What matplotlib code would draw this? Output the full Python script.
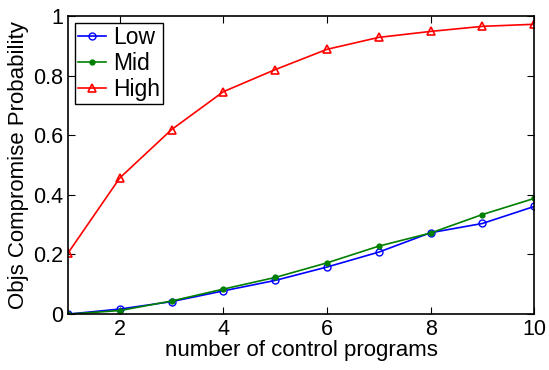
import matplotlib
matplotlib.use('Agg')
import matplotlib.pyplot as plt

plt.rcParams['font.family'] = ['Liberation Sans', 'DejaVu Sans']

# Data
n_programs = [1, 2, 3, 4, 5, 6, 7, 8, 9, 10]
low = [0.0, 0.017, 0.042, 0.078, 0.113, 0.158, 0.208, 0.273, 0.304, 0.361]
mid = [0.0, 0.012, 0.044, 0.084, 0.123, 0.172, 0.228, 0.272, 0.334, 0.388]
high = [0.205, 0.457, 0.619, 0.746, 0.82, 0.888, 0.928, 0.948, 0.965, 0.972]

fig = plt.figure(figsize=(5.49, 3.70), dpi=100)
ax = fig.add_axes([0.124, 0.151, 0.849, 0.806])

ax.plot(n_programs, low, color='blue', marker='o', markersize=5,
        markerfacecolor='none', linewidth=1.2, label='Low')
ax.plot(n_programs, mid, color='green', marker='.', markersize=7,
        linewidth=1.2, label='Mid')
ax.plot(n_programs, high, color='red', marker='^', markersize=6,
        markerfacecolor='none', markeredgewidth=1.2, linewidth=1.2, label='High')

ax.set_xlim(1, 10)
ax.set_ylim(0, 1)
ax.set_xticks([2, 4, 6, 8, 10])
ax.set_yticks([0, 0.2, 0.4, 0.6, 0.8, 1])
ax.set_yticklabels(['0', '0.2', '0.4', '0.6', '0.8', '1'])
ax.tick_params(direction='in', top=True, right=True, labelsize=15.5, length=5)
for s in ax.spines.values():
    s.set_linewidth(1.2)

ax.set_xlabel('number of control programs', fontsize=16, labelpad=0)
ax.set_ylabel('Objs Compromise Probability', fontsize=16, labelpad=3)

leg = ax.legend(loc='upper left', fontsize=16.5, fancybox=False, framealpha=1,
                edgecolor='black', handlelength=1.2, borderaxespad=0.3,
                borderpad=0.15, labelspacing=0.12, handletextpad=0.3)
leg.get_frame().set_linewidth(1.0)

fig.savefig('out.png', dpi=100)
